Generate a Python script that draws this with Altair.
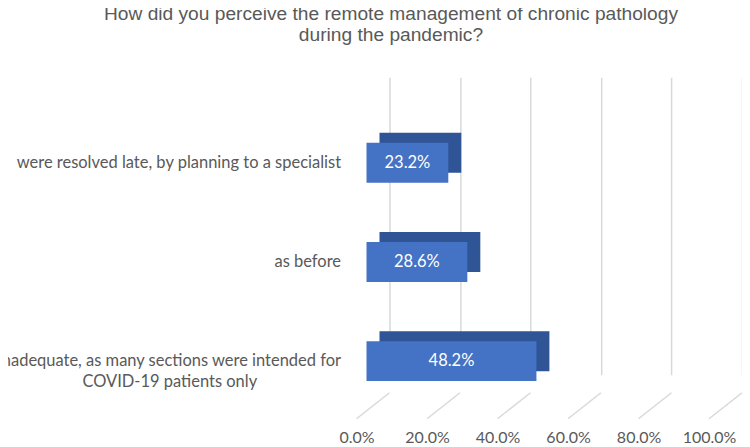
import altair as alt
import pandas as pd

NB = "\u00a0"
ZW = "\u200b"
categories = [
    "were resolved late, by planning to a specialist",
    "as before",
    "inadequate, as many sections were intended for\nCOVID-19 patients only" + NB * 20 + ZW,
]
values = [0.232, 0.286, 0.482]
ticks = [0.0, 0.2, 0.4, 0.6, 0.8, 1.0]

df = pd.DataFrame({"cat": categories, "val": values,
                   "lab": [f"{v*100:.1f}%" for v in values]})
tdf = pd.DataFrame({"t": ticks})

FONT = "Lato"
GREY = "#595959"

x_scale = alt.Scale(domain=[0, 1], nice=False, zero=True)
y_enc = alt.Y("cat:N", sort=categories, title=None,
              scale=alt.Scale(range=[18, 316]),
              axis=alt.Axis(labelExpr="split(datum.label, '\\n')", labelAlign="right",
                            labelFont=FONT, labelFontSize=16.5, labelColor=GREY,
                            labelPadding=49, ticks=False, domain=False, labelLimit=600,
                            labelLineHeight=21, labelOverlap=False))

floor = alt.Chart(tdf).mark_rule(color="#d9d9d9", strokeWidth=1.5, x2Offset=-33).encode(
    x=alt.X("t:Q", scale=x_scale),
    x2="t:Q",
    y=alt.value(298),
    y2=alt.value(324),
)

back = alt.Chart(df).mark_bar(color="#2F5597", size=40, xOffset=-10, x2Offset=-10,
                              yOffset=-10).encode(
    x=alt.X("val:Q", scale=x_scale,
            axis=alt.Axis(values=ticks, format=".1%", labelFont=FONT, labelFontSize=16,
                          labelColor=GREY, labelPadding=37, labelOffset=-33, ticks=False,
                          domain=False, gridColor="#d9d9d9", gridWidth=1.5, title=None,
                          labelOverlap=False, labelFlush=False, labelBound=False)),
    x2=alt.datum(0),
    y=y_enc,
)

front = alt.Chart(df).mark_bar(color="#4472C4", size=40, xOffset=-23, x2Offset=-23).encode(
    x=alt.X("val:Q", scale=x_scale),
    x2=alt.datum(0),
    y=y_enc,
)

text = alt.Chart(df).mark_text(color="white", font=FONT, fontSize=16.5, dx=-23).encode(
    x=alt.X("mid:Q", scale=x_scale),
    y=y_enc,
    text="lab:N",
).transform_calculate(mid="datum.val / 2")

chart = alt.layer(floor, back, front, text).properties(
    width=353, height=298,
    autosize=alt.AutoSizeParams(type="none"),
    padding={"left": 382, "top": 87, "right": 0, "bottom": 54},
    title=alt.TitleParams(
        ["How did you perceive the remote management of chronic pathology",
         "during the pandemic?"],
        anchor="middle", dx=-175, offset=50, font="Liberation Sans", fontSize=19.2,
        fontWeight="normal", color=GREY, lineHeight=21,
    ),
).configure_view(stroke=None)

chart.save("out.html", embed_options={"renderer": "svg", "actions": False})
